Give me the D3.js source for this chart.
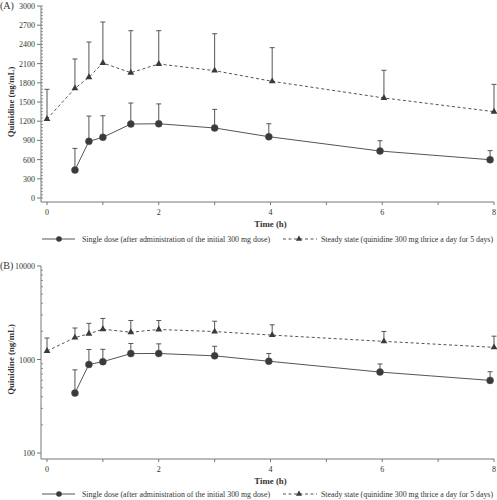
<!DOCTYPE html>
<html><head><meta charset="utf-8">
<script src="https://cdn.jsdelivr.net/npm/d3@7"></script>
<style>body{margin:0;background:#fff}svg{display:block;font-family:"Liberation Serif","Times New Roman",serif}</style>
</head><body><svg id="c" width="497" height="500"></svg>
<script>
const singleTimes = [0.5,0.75,1,1.5,2,3,3.97,5.96,7.93];
const singleMean  = [437,885,948,1156,1160,1094,958,734,598];
const singleUpper = [775,1280,1285,1484,1470,1385,1160,895,740];
const steadyTimes = [0,0.5,0.75,1,1.5,2,3,4.03,6.03,8];
const steadyMean  = [1234,1714,1886,2109,1958,2094,1990,1823,1563,1349];
const steadyUpper = [1698,2172,2437,2750,2614,2614,2567,2349,1995,1776];
const xTicks = [0,2,4,6,8];
const yTicksA = [0,300,600,900,1200,1500,1800,2100,2400,2700,3000];
const yTicksB = [100,1000,10000];
const legendLabels = ["Single dose (after administration of the initial 300 mg dose)","Steady state (quinidine 300 mg thrice a day for 5 days)"];
const yTitle = "Quinidine (ng/mL)", xTitle = "Time (h)";

const svg = d3.select("#c");
const lineCol = "#555", markCol = "#3a3a3a", axCol = "#777", txtCol = "#333";
const single = singleTimes.map((t,i)=>({t,m:singleMean[i],u:singleUpper[i]}));
const steady = steadyTimes.map((t,i)=>({t,m:steadyMean[i],u:steadyUpper[i]}));

function panel(cfg){
  const g = svg.append("g");
  const x = d3.scaleLinear().domain([0,8]).range([47,494]);
  const y = cfg.y;
  const axisY = cfg.axisY;
  g.append("line").attr("x1",41).attr("x2",494).attr("y1",axisY).attr("y2",axisY).attr("stroke",axCol).attr("stroke-width",1);
  d3.range(0,9).forEach(v=>{
    g.append("line").attr("x1",x(v)).attr("x2",x(v)).attr("y1",axisY).attr("y2",axisY+3).attr("stroke",axCol);
  });
  xTicks.forEach(v=>{
    g.append("text").attr("x",x(v)).attr("y",axisY+13).attr("text-anchor","middle").attr("font-size",8).attr("fill",txtCol).text(v);
  });
  g.append("text").attr("x",x(4)).attr("y",axisY+25).attr("text-anchor","middle").attr("font-size",8.8).attr("font-weight","bold").attr("fill",txtCol).text(xTitle);
  const [r0,r1] = y.range();
  g.append("line").attr("x1",41).attr("x2",41).attr("y1",r1).attr("y2",axisY).attr("stroke",axCol);
  cfg.minor.forEach(v=>{
    g.append("line").attr("x1",41).attr("x2",43).attr("y1",y(v)).attr("y2",y(v)).attr("stroke",axCol).attr("stroke-width",0.8);
  });
  cfg.ticks.forEach(v=>{
    g.append("line").attr("x1",37).attr("x2",41).attr("y1",y(v)).attr("y2",y(v)).attr("stroke",axCol);
    g.append("text").attr("x",35).attr("y",y(v)+3).attr("text-anchor","end").attr("font-size",8).attr("fill",txtCol).text(v);
  });
  g.append("text").attr("transform",`translate(14,${(r0+r1)/2}) rotate(-90)`).attr("text-anchor","middle").attr("font-size",8.8).attr("font-weight","bold").attr("fill",txtCol).text(yTitle);
  g.append("text").attr("x",0).attr("y",r1+3).attr("font-size",10).attr("fill",txtCol).text(cfg.label);
  const ln = d3.line().x(d=>x(d.t)).y(d=>y(d.m));
  g.append("path").datum(steady).attr("d",ln).attr("fill","none").attr("stroke",lineCol).attr("stroke-width",1).attr("stroke-dasharray","3,2.5");
  g.append("path").datum(single).attr("d",ln).attr("fill","none").attr("stroke",lineCol).attr("stroke-width",1);
  [single,steady].forEach(s=>s.forEach(d=>{
    g.append("line").attr("x1",x(d.t)).attr("x2",x(d.t)).attr("y1",y(d.m)).attr("y2",y(d.u)).attr("stroke",lineCol).attr("stroke-width",1);
    g.append("line").attr("x1",x(d.t)-2.5).attr("x2",x(d.t)+2.5).attr("y1",y(d.u)).attr("y2",y(d.u)).attr("stroke",lineCol).attr("stroke-width",1);
  }));
  const tri = d3.symbol().type(d3.symbolTriangle).size(20);
  g.selectAll(".tri").data(steady).join("path").attr("d",tri).attr("transform",d=>`translate(${x(d.t)},${y(d.m)})`).attr("fill",markCol);
  g.selectAll(".circ").data(single).join("circle").attr("cx",d=>x(d.t)).attr("cy",d=>y(d.m)).attr("r",3.5).attr("fill",markCol).attr("stroke","#555").attr("stroke-width",0.5);
  const ly = cfg.legendY;
  g.append("line").attr("x1",42).attr("x2",75).attr("y1",ly).attr("y2",ly).attr("stroke",lineCol);
  g.append("circle").attr("cx",59).attr("cy",ly).attr("r",2.8).attr("fill",markCol);
  g.append("text").attr("x",82).attr("y",ly+3).attr("font-size",8).attr("fill",txtCol)
    .attr("textLength",188).attr("lengthAdjust","spacingAndGlyphs").text(legendLabels[0]);
  g.append("line").attr("x1",283).attr("x2",317).attr("y1",ly).attr("y2",ly).attr("stroke",lineCol).attr("stroke-dasharray","3,2.5");
  g.append("path").attr("d",d3.symbol().type(d3.symbolTriangle).size(16)).attr("transform",`translate(299,${ly})`).attr("fill",markCol);
  g.append("text").attr("x",321).attr("y",ly+3).attr("font-size",8).attr("fill",txtCol)
    .attr("textLength",172).attr("lengthAdjust","spacingAndGlyphs").text(legendLabels[1]);
}

panel({
  y: d3.scaleLinear().domain([0,3000]).range([198,6]),
  axisY: 202,
  ticks: yTicksA,
  minor: d3.range(0,3001,50),
  label: "(A)",
  legendY: 239
});
const minorB = [];
[100,1000].forEach(b=>{for(let k=2;k<=9;k++) minorB.push(b*k);});
panel({
  y: d3.scaleLog().domain([100,10000]).range([453,266]),
  axisY: 459,
  ticks: yTicksB,
  minor: minorB,
  label: "(B)",
  legendY: 494
});
</script></body></html>
